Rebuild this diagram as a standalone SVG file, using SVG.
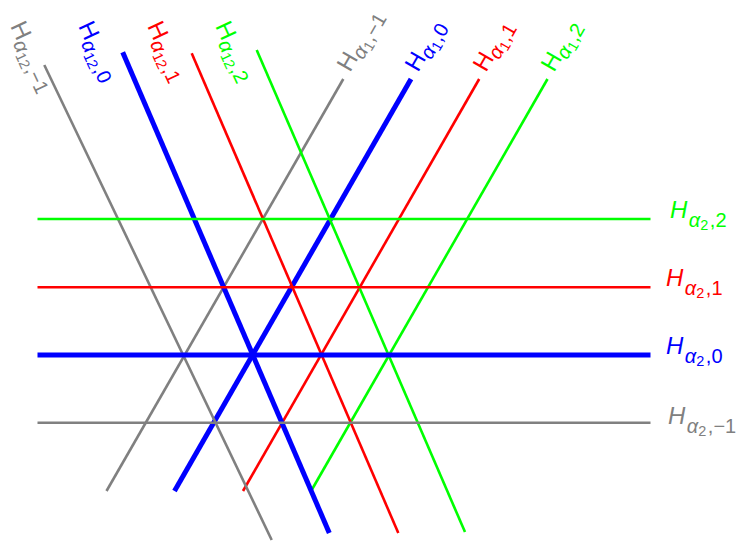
<svg xmlns="http://www.w3.org/2000/svg" width="749" height="542" viewBox="0 0 749 542">
<style>
line{fill:none;stroke-linecap:butt}
.g{stroke:#808080;stroke-width:2.6}
.r{stroke:#ff0000;stroke-width:2.6}
.gr{stroke:#00ff00;stroke-width:2.6}
.b{stroke:#0000ff;stroke-width:5}
text{font-family:"Liberation Sans","DejaVu Sans",sans-serif;font-size:24px}
.s1{font-size:20px}
.s2{font-size:14.5px}
.it{font-style:italic}
.tg{fill:#808080}.tr{fill:#ff0000}.tgr{fill:#00ff00}.tb{fill:#0000ff}
</style>
<rect width="749" height="542" fill="#fff"/>
<g id="connectors">
<g id="alpha1">
<line class="g" x1="106.5" y1="491" x2="343.3" y2="79"/>
<line class="b" x1="174.5" y1="491" x2="411" y2="79"/>
<line class="r" x1="243" y1="491" x2="479.2" y2="79"/>
<line class="gr" x1="311.4" y1="490.5" x2="547.5" y2="79"/>
</g>
<g id="alpha12">
<line class="g" x1="44.3" y1="65" x2="271.7" y2="540"/>
<line class="b" x1="122.7" y1="52.3" x2="329.3" y2="533"/>
<line class="r" x1="191.7" y1="53.3" x2="398.3" y2="533"/>
<line class="gr" x1="256.7" y1="50" x2="465" y2="532"/>
</g>
<g id="alpha2">
<line class="gr" x1="37.5" y1="219" x2="650.5" y2="219"/>
<line class="r" x1="37.5" y1="287.3" x2="650.5" y2="287.3"/>
<line class="b" x1="37.5" y1="355" x2="650.5" y2="355"/>
<line class="g" x1="37.5" y1="422.7" x2="650.5" y2="422.7"/>
</g>
</g>
<g id="labels-alpha2">
<g id="H-a2-2"><text class="tgr" x="670" y="218"><tspan class="it">H</tspan><tspan class="s1 it" dy="9" dx="1.5">α</tspan><tspan class="s2" dy="3">2</tspan><tspan class="s1" dy="-3" dx="1.5">,2</tspan></text></g>
<g id="H-a2-1"><text class="tr" x="666" y="286"><tspan class="it">H</tspan><tspan class="s1 it" dy="9" dx="1.5">α</tspan><tspan class="s2" dy="3">2</tspan><tspan class="s1" dy="-3" dx="1.5">,1</tspan></text></g>
<g id="H-a2-0"><text class="tb" x="666" y="354"><tspan class="it">H</tspan><tspan class="s1 it" dy="9" dx="1.5">α</tspan><tspan class="s2" dy="3">2</tspan><tspan class="s1" dy="-3" dx="1.5">,0</tspan></text></g>
<g id="H-a2-m1"><text class="tg" x="668" y="424"><tspan class="it">H</tspan><tspan class="s1 it" dy="9" dx="1.5">α</tspan><tspan class="s2" dy="3">2</tspan><tspan class="s1" dy="-3" dx="1.5">,−1</tspan></text></g>
</g>
<g id="labels-alpha1">
<g id="H-a1-m1"><text class="tg" transform="translate(350,73) rotate(-60)"><tspan>H</tspan><tspan class="s1 it" dy="5">α</tspan><tspan class="s2" dy="3">1</tspan><tspan class="s1" dy="-3" dx="1">,−1</tspan></text></g>
<g id="H-a1-0"><text class="tb" transform="translate(418,73) rotate(-60)"><tspan>H</tspan><tspan class="s1 it" dy="5">α</tspan><tspan class="s2" dy="3">1</tspan><tspan class="s1" dy="-3" dx="1">,0</tspan></text></g>
<g id="H-a1-1"><text class="tr" transform="translate(486,73) rotate(-60)"><tspan>H</tspan><tspan class="s1 it" dy="5">α</tspan><tspan class="s2" dy="3">1</tspan><tspan class="s1" dy="-3" dx="1">,1</tspan></text></g>
<g id="H-a1-2"><text class="tgr" transform="translate(554,73) rotate(-60)"><tspan>H</tspan><tspan class="s1 it" dy="5">α</tspan><tspan class="s2" dy="3">1</tspan><tspan class="s1" dy="-3" dx="1">,2</tspan></text></g>
</g>
<g id="labels-alpha12">
<g id="H-a12-m1"><text class="tg" transform="translate(10,26) rotate(65)"><tspan>H</tspan><tspan class="s1 it" dy="5">α</tspan><tspan class="s2" dy="3">12</tspan><tspan class="s1" dy="-3" dx="1">,−1</tspan></text></g>
<g id="H-a12-0"><text class="tb" transform="translate(78,26) rotate(65)"><tspan>H</tspan><tspan class="s1 it" dy="5">α</tspan><tspan class="s2" dy="3">12</tspan><tspan class="s1" dy="-3" dx="1">,0</tspan></text></g>
<g id="H-a12-1"><text class="tr" transform="translate(147,26) rotate(65)"><tspan>H</tspan><tspan class="s1 it" dy="5">α</tspan><tspan class="s2" dy="3">12</tspan><tspan class="s1" dy="-3" dx="1">,1</tspan></text></g>
<g id="H-a12-2"><text class="tgr" transform="translate(215,26) rotate(65)"><tspan>H</tspan><tspan class="s1 it" dy="5">α</tspan><tspan class="s2" dy="3">12</tspan><tspan class="s1" dy="-3" dx="1">,2</tspan></text></g>
</g>
</svg>
